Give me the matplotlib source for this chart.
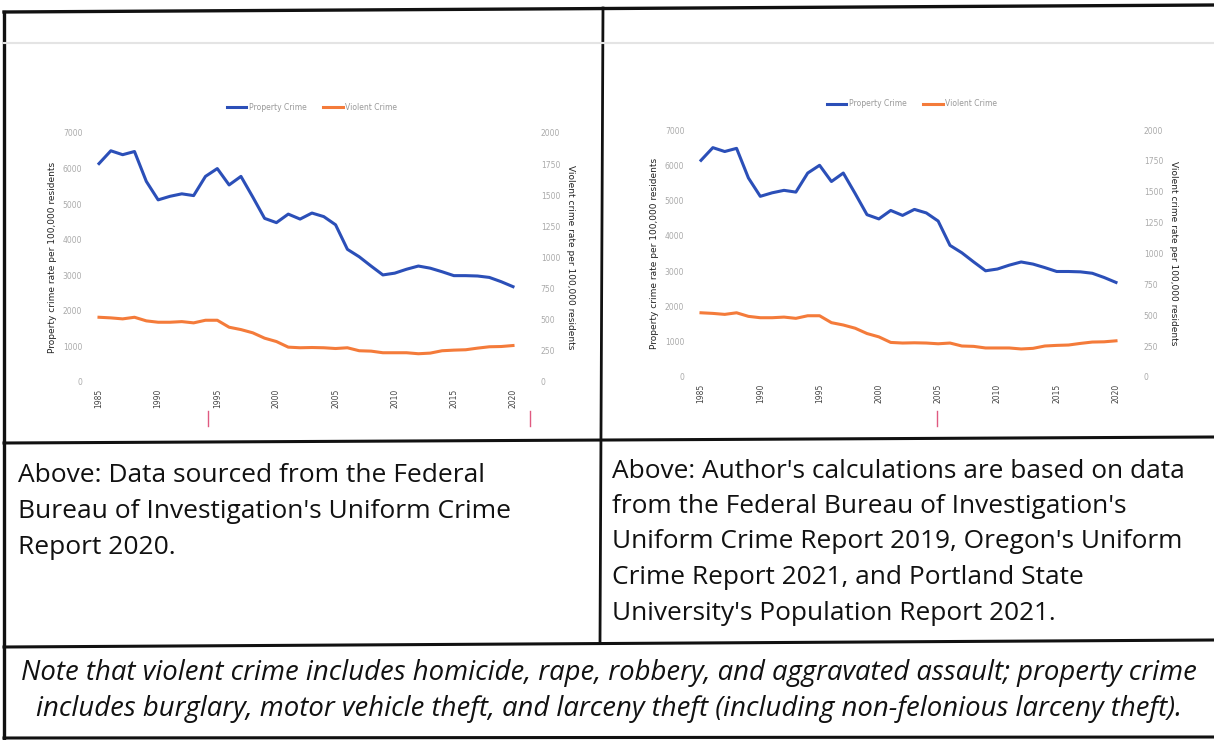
import matplotlib.pyplot as plt
import numpy as np
from matplotlib.lines import Line2D

years = np.arange(1985, 2021)

# property crime rate per 100,000 (left axis)
property_crime = [6140, 6500, 6390, 6480, 5640, 5120, 5220, 5290, 5240, 5780,
                  6000, 5540, 5780, 5200, 4600, 4480, 4720, 4580, 4750, 4650,
                  4420, 3730, 3520, 3260, 3010, 3060, 3170, 3260, 3200, 3100,
                  2990, 2990, 2980, 2940, 2820, 2680]
# violent crime rate per 100,000 (right axis)
violent_crime = [520, 515, 507, 520, 491, 480, 480, 485, 475, 496,
                 496, 440, 421, 395, 352, 325, 280, 275, 277, 275,
                 269, 275, 251, 248, 235, 235, 235, 227, 232, 251,
                 256, 259, 272, 283, 285, 293]

year_ticks = [1985, 1990, 1995, 2000, 2005, 2010, 2015, 2020]
left_ticks = [0, 1000, 2000, 3000, 4000, 5000, 6000, 7000]
right_ticks = [0, 250, 500, 750, 1000, 1250, 1500, 1750, 2000]

caption_left = ["Above: Data sourced from the Federal",
                "Bureau of Investigation's Uniform Crime",
                "Report 2020."]
caption_right = ["Above: Author's calculations are based on data",
                 "from the Federal Bureau of Investigation's",
                 "Uniform Crime Report 2019, Oregon's Uniform",
                 "Crime Report 2021, and Portland State",
                 "University's Population Report 2021."]
note = ["Note that violent crime includes homicide, rape, robbery, and aggravated assault; property crime",
        "includes burglary, motor vehicle theft, and larceny theft (including non-felonious larceny theft)."]

BLUE = '#2b4fb8'
ORANGE = '#f47b3a'
W, H = 1214, 740

fig = plt.figure(figsize=(W / 100, H / 100), dpi=100)
fig.patch.set_facecolor('white')


def px(x, y):
    return x / W, 1 - y / H


def fig_line(x0, y0, x1, y1, lw=2.2, color='#111111'):
    a, b = px(x0, y0)
    c, d = px(x1, y1)
    fig.add_artist(Line2D([a, c], [b, d], transform=fig.transFigure, lw=lw, color=color))


def crime_chart(left, top, right, bottom, leg_x, leg_y):
    l, b = left / W, 1 - bottom / H
    ax = fig.add_axes([l, b, (right - left) / W, (bottom - top) / H])
    ax.plot(years, property_crime, color=BLUE, lw=2.2, clip_on=False)
    ax.set_xlim(1985, 2020)
    ax.set_ylim(0, 7000)
    ax.set_yticks(left_ticks)
    ax.set_xticks(year_ticks)
    ax.set_xticklabels([str(y) for y in year_ticks], rotation=90, fontsize=5.5, color='#444444')
    ax.tick_params(axis='x', length=0, pad=5)
    ax.tick_params(axis='y', length=0, pad=12, labelsize=5.5, labelcolor='#aaaaaa')
    ax.set_ylabel('Property crime rate per 100,000 residents', fontsize=6.5, color='#222222', labelpad=4)
    ax2 = ax.twinx()
    ax2.plot(years, violent_crime, color=ORANGE, lw=2.2, clip_on=False)
    ax2.set_ylim(0, 2000)
    ax2.set_yticks(right_ticks)
    ax2.tick_params(axis='y', length=0, pad=20, labelsize=5.5, labelcolor='#aaaaaa')
    ax2.set_ylabel('Violent crime rate per 100,000 residents', fontsize=6.5, color='#222222',
                   labelpad=4, rotation=270, va='bottom')
    for a in (ax, ax2):
        for s in a.spines.values():
            s.set_visible(False)
    handles = [Line2D([], [], color=BLUE, lw=2.2), Line2D([], [], color=ORANGE, lw=2.2)]
    fig.legend(handles, ['Property Crime', 'Violent Crime'], loc='center', ncol=2,
               bbox_to_anchor=px(leg_x, leg_y), frameon=False, fontsize=5.5,
               labelcolor='#999999', handlelength=2.6, handletextpad=0.3, columnspacing=2.2)
    return ax


crime_chart(99, 133, 513, 382, 312, 107)
crime_chart(701, 130, 1116, 377, 912, 104)

# small pink marks under the axes
for x0, y0 in [(208, 411), (530, 411), (937, 411)]:
    fig_line(x0, y0, x0, y0 + 15, lw=1.0, color='#e05a80')

# table grid
fig_line(4, 12, 1214, 5, lw=2.4)
fig_line(4, 12, 4, 740, lw=2.4)
fig_line(603, 8, 600, 642, lw=2.0)
fig_line(4, 443, 1214, 437, lw=2.2)
fig_line(4, 647, 1214, 640, lw=2.2)
fig_line(4, 738, 1214, 737, lw=2.2)
fig_line(4, 43, 1214, 43, lw=1.5, color='#e4e4e4')

family = ['Open Sans', 'DejaVu Sans']
for i, line in enumerate(caption_left):
    x, y = px(18, 475 + i * 36)
    fig.text(x, y, line, fontsize=19, family=family, va='center', ha='left', color='#111111')
for i, line in enumerate(caption_right):
    x, y = px(612, 471 + i * 35.5)
    fig.text(x, y, line, fontsize=18.9, family=family, va='center', ha='left', color='#111111')
for i, line in enumerate(note):
    x, y = px(609, 673 + i * 36)
    fig.text(x, y, line, fontsize=19.8, family=family, style='italic', va='center', ha='center',
             color='#111111')

fig.savefig('out.png', dpi=100)
